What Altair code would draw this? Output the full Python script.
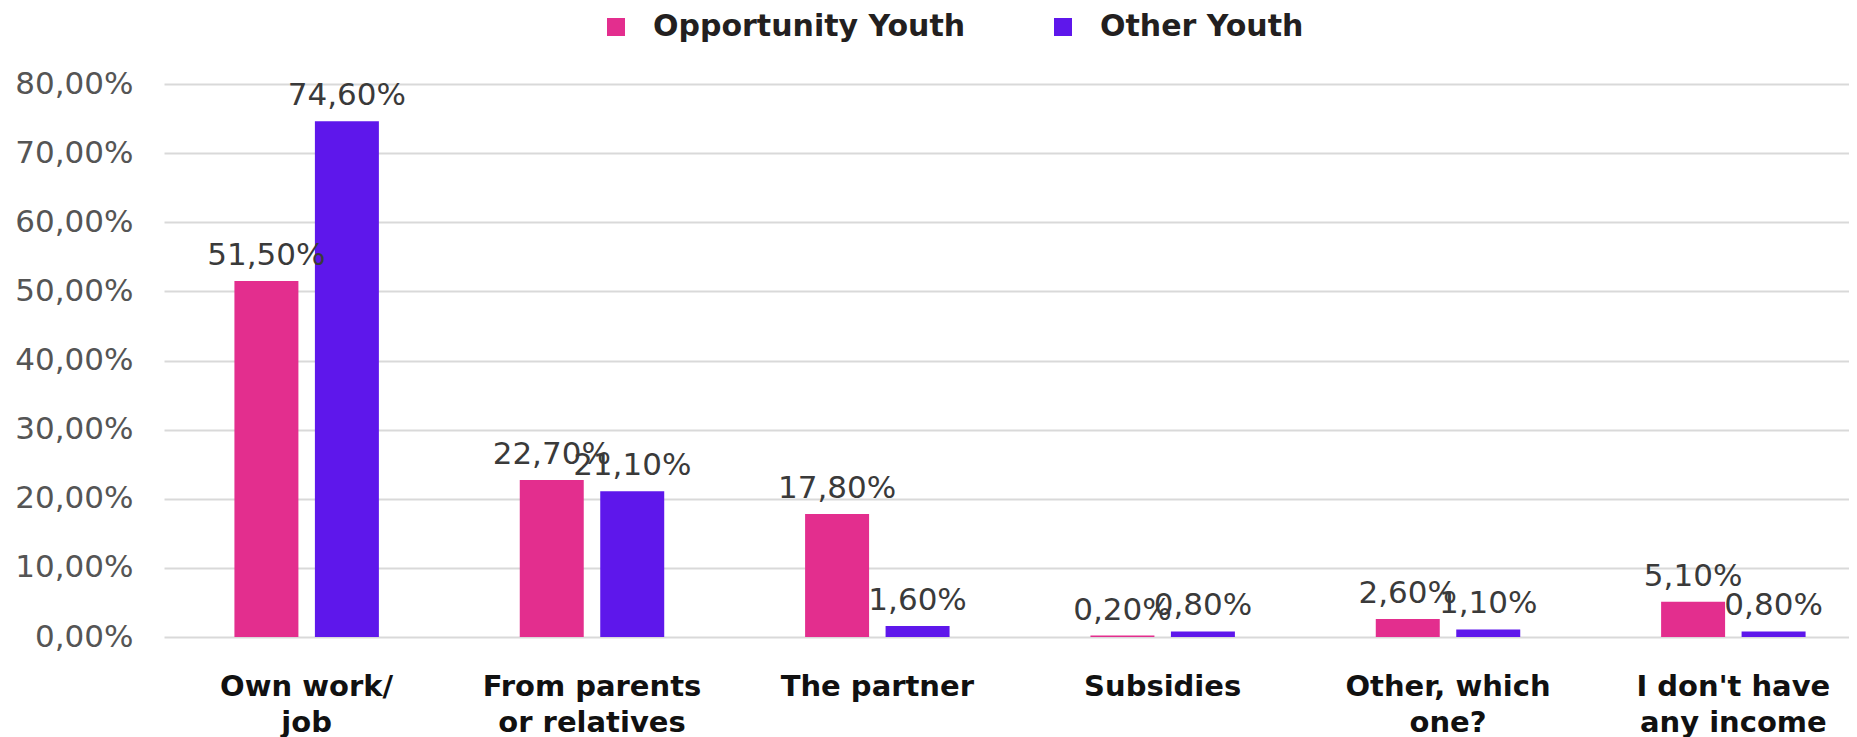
import altair as alt
import pandas as pd

categories = ["Own work/\njob", "From parents\nor relatives", "The partner",
              "Subsidies", "Other, which\none?", "I don't have\nany income"]
series = ["Opportunity Youth", "Other Youth"]
opportunity_youth = [51.5, 22.7, 17.8, 0.2, 2.6, 5.1]
other_youth = [74.6, 21.1, 1.6, 0.8, 1.1, 0.8]
y_ticks = [0, 10, 20, 30, 40, 50, 60, 70, 80]
colors = ["#E32E8E", "#5E17EB"]

rows = []
for c, a, b in zip(categories, opportunity_youth, other_youth):
    rows.append({"cat": c, "series": series[0], "value": a})
    rows.append({"cat": c, "series": series[1], "value": b})
df = pd.DataFrame(rows)

FONT = "DejaVu Sans"

x = alt.X(
    "cat:N", sort=categories,
    scale=alt.Scale(range=[0, 1712], paddingInner=0.4937, paddingOuter=0.2468),
    axis=alt.Axis(title=None, labelExpr="split(datum.label, '\\n')", labelAngle=0,
                  labelFont=FONT, labelFontSize=29, labelFontWeight="bold",
                  labelColor="#111111", labelBaseline="middle", labelLineHeight=36,
                  labelPadding=49, ticks=False, tickSize=0, domain=False, grid=False,
                  labelLimit=500),
)
xo = alt.XOffset("series:N", sort=series, scale=alt.Scale(paddingInner=0.205, paddingOuter=0))
y = alt.Y(
    "value:Q", scale=alt.Scale(domain=[0, 80], nice=False),
    axis=alt.Axis(title=None, values=y_ticks,
                  labelExpr="replace(format(datum.value, '.2f'), '.', ',') + '%'",
                  labelFont=FONT, labelFontSize=31, labelColor="#555555",
                  labelPadding=31, ticks=False, tickSize=0, domain=False,
                  grid=True, gridColor="#D9D9D9", gridWidth=2),
)
color = alt.Color(
    "series:N", sort=series, scale=alt.Scale(domain=series, range=colors),
    legend=alt.Legend(title=None, orient="none", legendX=437, legendY=-72,
                      direction="horizontal", symbolType="square", symbolSize=324,
                      symbolStrokeWidth=0, labelFont=FONT, labelFontSize=30,
                      labelFontWeight="bold", labelColor="#231F20", labelOffset=22,
                      columnPadding=82, labelLimit=600, padding=0),
)

base = alt.Chart(df).encode(x=x, xOffset=xo)
bars = base.mark_bar().encode(y=y, color=color)
text = base.transform_calculate(
    lbl="replace(format(datum.value, '.2f'), '.', ',') + '%'"
).mark_text(font=FONT, fontSize=31, color="#3A3A3A", baseline="alphabetic", dy=-16).encode(
    y=alt.Y("value:Q"), text="lbl:N"
)

chart = alt.layer(bars, text).properties(
    width=1685, height=553,
    autosize=alt.AutoSizeParams(type="none"),
    padding={"left": 156, "top": 76, "right": 0, "bottom": 100},
).configure_view(stroke=None)

chart.save("out.html", embed_options={"renderer": "svg", "actions": False})
